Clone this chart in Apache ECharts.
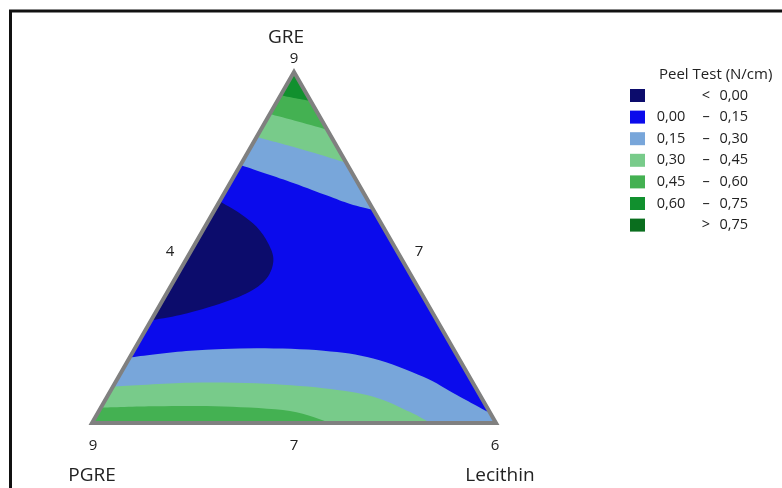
<!DOCTYPE html>
<html><head><meta charset="utf-8">
<script src="https://cdn.jsdelivr.net/npm/echarts@6/dist/echarts.min.js"></script>
<style>html,body{margin:0;padding:0;background:#fff}#c{width:782px;height:488px}</style>
</head><body><div id="c"></div>
<script>
// ---- Data (ternary points are [GRE fraction, Lecithin fraction]; PGRE = 1 - GRE - Lecithin) ----
const componentNames = ['GRE', 'PGRE', 'Lecithin'];
const cornerTicks = ['9', '9', '6'];          // GRE apex, PGRE corner, Lecithin corner
const edgeTicks = ['4', '7', '7'];            // left edge, right edge, base
const legendTitle = 'Peel Test (N/cm)';
const bandLow  = ['',     '0,00', '0,15', '0,30', '0,45', '0,60', ''];
const bandSep  = ['<',    '–',    '–',    '–',    '–',    '–',    '>'];
const bandHigh = ['0,00', '0,15', '0,30', '0,45', '0,60', '0,75', '0,75'];
const bandColors = ['#0c0c6c', '#0b0bec', '#78a6da', '#78cb8a', '#44b152', '#11902e', '#0a6e1e'];

// contour lines
const apex015 = [[0.735, 0], [0.684, 0.156], [0.648, 0.258], [0.624, 0.327], [0.607, 0.393]];
const apex030 = [[0.815, 0], [0.787, 0.104], [0.764, 0.183], [0.741, 0.259]];
const apex045 = [[0.880, 0], [0.858, 0.083], [0.835, 0.165]];
const apex060 = [[0.934, 0], [0.925, 0.042], [0.917, 0.083]];
const base015 = [[0.187, 0], [0.206, 0.140], [0.213, 0.301], [0.206, 0.470], [0.184, 0.604], [0.132, 0.754], [0.080, 0.863], [0.028, 0.972]];
const base030 = [[0.104, 0], [0.115, 0.185], [0.113, 0.351], [0.099, 0.523], [0.075, 0.659], [0.031, 0.772], [0, 0.837]];
const base045 = [[0.044, 0], [0.048, 0.136], [0.047, 0.302], [0.034, 0.473], [0, 0.589]];
const below000 = [[0.632, 0], [0.597, 0.068], [0.559, 0.128], [0.512, 0.180], [0.464, 0.217], [0.412, 0.226], [0.370, 0.198], [0.331, 0.127], [0.308, 0.064], [0.293, 0]];

// ---- regions per band (curve + triangle corners that close it) ----
const corner = { T: [1, 0], L: [0, 0], R: [0, 1] };
const bandRegions = [
  [{ curve: below000, close: [] }],
  [{ curve: [corner.L, corner.R, corner.T], close: [], straight: true }],
  [{ curve: apex015, close: ['T'] }, { curve: base015, close: ['R', 'L'] }],
  [{ curve: apex030, close: ['T'] }, { curve: base030, close: ['L'] }],
  [{ curve: apex045, close: ['T'] }, { curve: base045, close: ['L'] }],
  [{ curve: apex060, close: ['T'] }],
  []
];
const drawOrder = [1, 2, 3, 4, 5, 6, 0];
const bandName = i => bandLow[i] ? bandLow[i] + ' ' + bandSep[i] + ' ' + bandHigh[i] : bandSep[i] + ' ' + bandHigh[i];

function tern(p) { return [p[1] + p[0] / 2, p[0]]; }

function curvePath(pts, straight) {
  let d = 'M' + pts[0][0] + ',' + pts[0][1];
  for (let i = 0; i < pts.length - 1; i++) {
    const p0 = pts[Math.max(i - 1, 0)], p1 = pts[i], p2 = pts[i + 1], p3 = pts[Math.min(i + 2, pts.length - 1)];
    if (straight) { d += 'L' + p2[0] + ',' + p2[1]; continue; }
    const c1 = [p1[0] + (p2[0] - p0[0]) / 6, p1[1] + (p2[1] - p0[1]) / 6];
    const c2 = [p2[0] - (p3[0] - p1[0]) / 6, p2[1] - (p3[1] - p1[1]) / 6];
    d += 'C' + c1[0] + ',' + c1[1] + ',' + c2[0] + ',' + c2[1] + ',' + p2[0] + ',' + p2[1];
  }
  return d;
}

const FONT = 'Open Sans';
const LFS = 14.5;
const chart = echarts.init(document.getElementById('c'), null, { renderer: 'canvas' });

const bandSeries = drawOrder.map(b => ({
  type: 'custom',
  name: bandName(b),
  coordinateSystem: 'cartesian2d',
  itemStyle: { color: bandColors[b] },
  silent: true,
  animation: false,
  data: bandRegions[b].map((r, i) => [i, 0]),
  renderItem: function (params, api) {
    const reg = bandRegions[b][params.dataIndex];
    const px = reg.curve.map(p => api.coord(tern(p)));
    let d = curvePath(px, reg.straight);
    reg.close.forEach(k => { const c = api.coord(tern(corner[k])); d += 'L' + c[0] + ',' + c[1]; });
    d += 'Z';
    return { type: 'path', shape: { pathData: d }, style: { fill: api.visual('color'), stroke: null } };
  }
}));

const labelSeries = {
  type: 'custom',
  name: 'frame',
  coordinateSystem: 'cartesian2d',
  silent: true,
  animation: false,
  z: 5,
  data: [[0, 0]],
  renderItem: function (params, api) {
    const T = api.coord(tern(corner.T)), L = api.coord(tern(corner.L)), R = api.coord(tern(corner.R));
    const lm = api.coord(tern([0.5, 0])), rm = api.coord(tern([0.5, 0.5])), bm = api.coord(tern([0, 0.5]));
    const txt = (s, p, dx, dy, size) => ({
      type: 'text', x: p[0] + dx, y: p[1] + dy,
      style: { text: s, fill: '#222', font: size + 'px "' + FONT + '"', align: 'center', verticalAlign: 'middle' }
    });
    return {
      type: 'group', children: [
        { type: 'polygon', shape: { points: [T, L, R] }, style: { fill: null, stroke: '#808080', lineWidth: 4, lineJoin: 'miter' } },
        txt(componentNames[0], T, -8, -34, 19),
        txt(cornerTicks[0], T, 0, -13, 15),
        txt(componentNames[1], L, 0, 53, 19),
        txt(cornerTicks[1], L, 1, 23, 15),
        txt(componentNames[2], R, 4, 53, 19),
        txt(cornerTicks[2], R, -1, 23, 15),
        txt(edgeTicks[0], lm, -23, 4, 15),
        txt(edgeTicks[1], rm, 24, 4, 15),
        txt(edgeTicks[2], bm, 0, 23, 15)
      ]
    };
  }
};

chart.setOption({
  backgroundColor: '#ffffff',
  animation: false,
  title: {
    text: legendTitle, left: 659, top: 67, padding: 0,
    textStyle: { fontFamily: FONT, fontSize: 15, fontWeight: 'normal', color: '#222' }
  },
  legend: {
    orient: 'vertical', left: 630, top: 88, padding: 0,
    icon: 'rect', itemWidth: 15, itemHeight: 13, itemGap: 6.6,
    selectedMode: false,
    data: [0, 1, 2, 3, 4, 5, 6].map(bandName),
    formatter: function (name) {
      const i = [0, 1, 2, 3, 4, 5, 6].find(k => bandName(k) === name);
      return '{a|' + bandLow[i] + '}{b|' + bandSep[i] + '}{c|' + bandHigh[i] + '}';
    },
    textStyle: {
      fontFamily: FONT, fontSize: LFS, color: '#222', lineHeight: 13,
      rich: {
        a: { width: 42, align: 'right', fontFamily: FONT, fontSize: LFS, lineHeight: 13 },
        b: { width: 28, align: 'center', fontFamily: FONT, fontSize: LFS, lineHeight: 13 },
        c: { width: 28, align: 'right', fontFamily: FONT, fontSize: LFS, lineHeight: 13 }
      }
    }
  },
  grid: { left: 92, top: 72, width: 404, height: 351 },
  xAxis: { type: 'value', min: 0, max: 1, show: false },
  yAxis: { type: 'value', min: 0, max: 1, show: false },
  graphic: [{
    type: 'rect', shape: { x: 10.5, y: 11, width: 900, height: 600 },
    style: { fill: null, stroke: '#111', lineWidth: 3 }, silent: true, z: 10
  }],
  series: bandSeries.concat([labelSeries])
});
</script></body></html>
